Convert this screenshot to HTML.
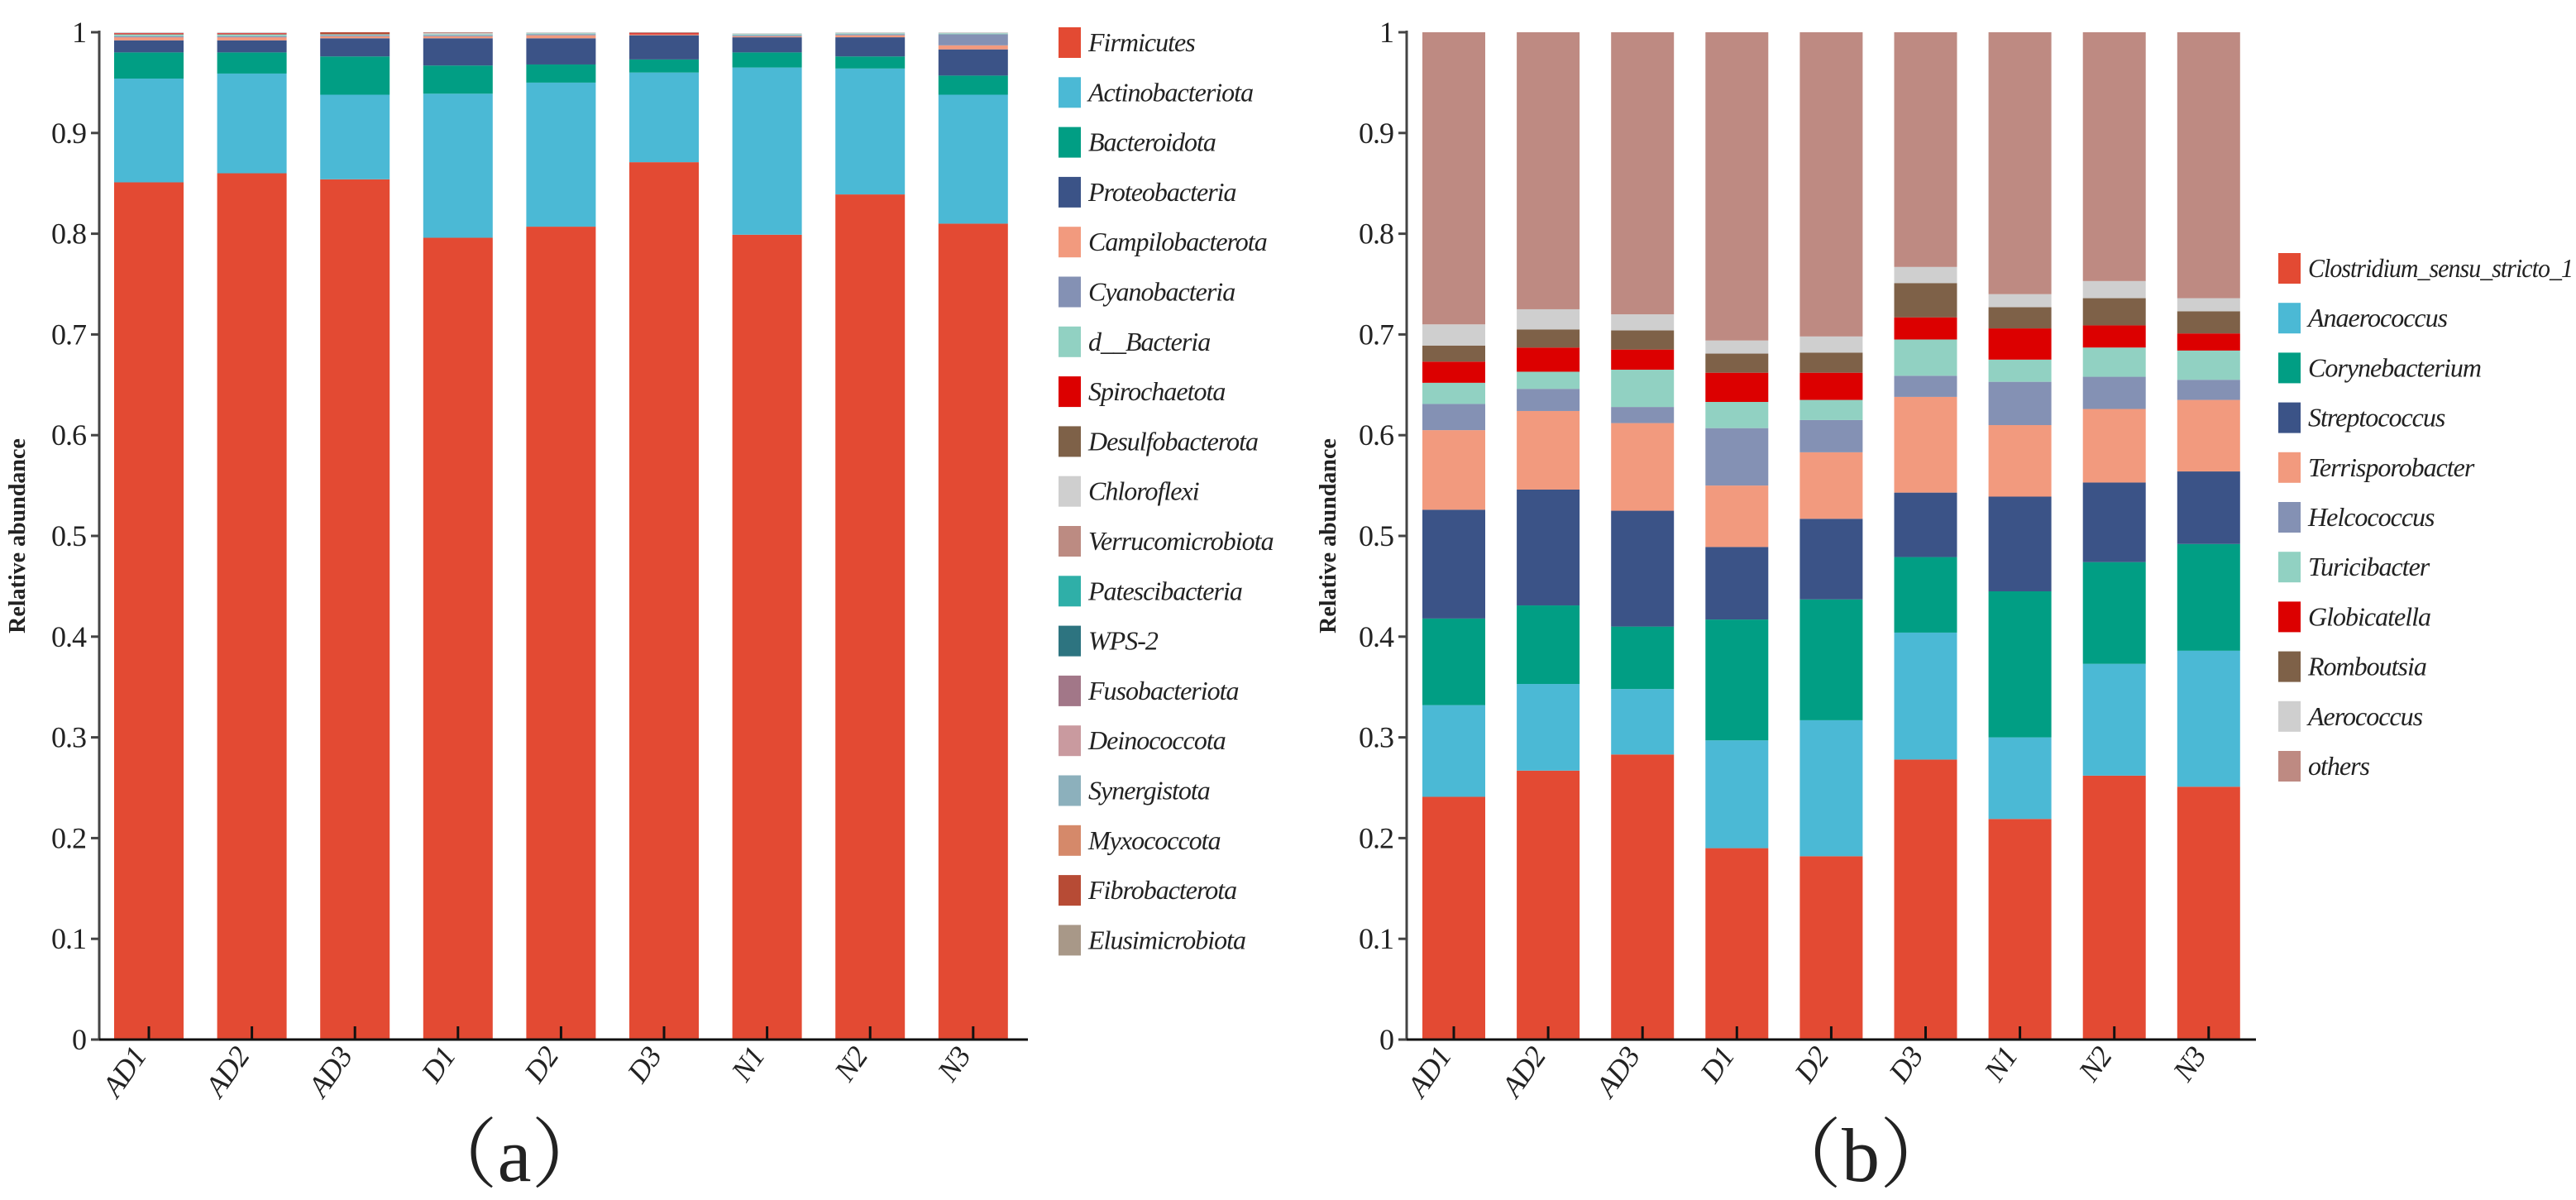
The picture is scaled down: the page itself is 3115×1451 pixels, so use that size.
<!DOCTYPE html>
<html><head><meta charset="utf-8">
<style>
html,body{margin:0;padding:0;background:#fff;}
svg{display:block;}
text{font-family:"Liberation Serif",serif;fill:#222;}
.tk{font-size:36px;letter-spacing:-1px;}
.lg{font-size:32px;font-style:italic;letter-spacing:-1px;}
.yt{font-size:28px;font-weight:bold;}
.pl{font-family:"Liberation Serif","Noto Serif CJK SC",serif;font-size:92px;}
</style></head>
<body>
<svg id="chart" width="3115" height="1451" viewBox="0 0 3115 1451" xmlns="http://www.w3.org/2000/svg"></svg>
<script>
const samples = ["AD1","AD2","AD3","D1","D2","D3","N1","N2","N3"];
const yTicks = [0,0.1,0.2,0.3,0.4,0.5,0.6,0.7,0.8,0.9,1];
const yTickLabels = ["0","0.1","0.2","0.3","0.4","0.5","0.6","0.7","0.8","0.9","1"];

// Panel (a) phylum level
const phylaNames = ["Firmicutes","Actinobacteriota","Bacteroidota","Proteobacteria","Campilobacterota","Cyanobacteria","d__Bacteria","Spirochaetota","Desulfobacterota","Chloroflexi","Verrucomicrobiota","Patescibacteria","WPS-2","Fusobacteriota","Deinococcota","Synergistota","Myxococcota","Fibrobacterota","Elusimicrobiota"];
const phylaColors = ["#E34A33","#4BB9D5","#019E84","#3B5387","#F29A7E","#8491B4","#91D1C2","#DC0000","#7E6148","#CFCFCF","#BC8B82","#2FAFA8","#2D7480","#A27788","#C99A9F","#8CB0BC","#D5896A","#B74B35","#A89888"];
const firmicutes = [0.851,0.860,0.854,0.796,0.807,0.871,0.799,0.839,0.810];
const actinobacteriota = [0.103,0.099,0.084,0.143,0.143,0.089,0.166,0.125,0.128];
const bacteroidota = [0.026,0.021,0.038,0.028,0.018,0.013,0.015,0.012,0.019];
const proteobacteria = [0.012,0.012,0.018,0.027,0.026,0.024,0.015,0.019,0.026];
const campilobacterota = [0.003,0.003,0.002,0.002,0.003,0.001,0.001,0.002,0.004];
const cyanobacteria = [0.001,0.001,0.001,0.001,0.001,0.000,0.001,0.001,0.011];
const dBacteria = [0.002,0.002,0.001,0.001,0.001,0.000,0.001,0.001,0.001];
const spirochaetota = [0.001,0.001,0.000,0.000,0.000,0.001,0.000,0.000,0.000];
const desulfobacterota = [0.000,0.000,0.000,0.000,0.000,0.000,0.000,0.000,0.000];
const chloroflexi = [0.001,0.001,0.000,0.001,0.001,0.000,0.001,0.001,0.001];
const verrucomicrobiota = [0.000,0.000,0.000,0.001,0.000,0.001,0.000,0.000,0.000];
const minorA = [0.000,0.000,0.000,0.000,0.000,0.000,0.000,0.000,0.000];
const fibrobacterota = [0.000,0.000,0.002,0.000,0.000,0.000,0.000,0.000,0.000];
const phylaSeries = [firmicutes,actinobacteriota,bacteroidota,proteobacteria,campilobacterota,cyanobacteria,dBacteria,spirochaetota,desulfobacterota,chloroflexi,verrucomicrobiota,minorA,minorA,minorA,minorA,minorA,minorA,fibrobacterota,minorA];

// Panel (b) genus level
const genusNames = ["Clostridium_sensu_stricto_1","Anaerococcus","Corynebacterium","Streptococcus","Terrisporobacter","Helcococcus","Turicibacter","Globicatella","Romboutsia","Aerococcus","others"];
const genusColors = ["#E34A33","#4BB9D5","#019E84","#3B5387","#F29A7E","#8491B4","#91D1C2","#DC0000","#7E6148","#CFCFCF","#BE8A82"];
const clostridium = [0.241,0.267,0.283,0.190,0.182,0.278,0.219,0.262,0.251];
const anaerococcus = [0.091,0.086,0.065,0.107,0.135,0.126,0.081,0.111,0.135];
const corynebacterium = [0.086,0.078,0.062,0.120,0.120,0.075,0.145,0.101,0.106];
const streptococcus = [0.108,0.115,0.115,0.072,0.080,0.064,0.094,0.079,0.072];
const terrisporobacter = [0.079,0.078,0.087,0.061,0.066,0.095,0.071,0.073,0.071];
const helcococcus = [0.026,0.022,0.016,0.057,0.032,0.021,0.043,0.032,0.020];
const turicibacter = [0.021,0.017,0.037,0.026,0.020,0.036,0.022,0.029,0.029];
const globicatella = [0.021,0.024,0.020,0.029,0.027,0.022,0.031,0.022,0.017];
const romboutsia = [0.016,0.018,0.019,0.019,0.020,0.034,0.021,0.027,0.022];
const aerococcus = [0.021,0.020,0.016,0.013,0.016,0.016,0.013,0.017,0.013];
const others = [0.290,0.275,0.280,0.306,0.302,0.233,0.260,0.247,0.264];
const genusSeries = [clostridium,anaerococcus,corynebacterium,streptococcus,terrisporobacter,helcococcus,turicibacter,globicatella,romboutsia,aerococcus,others];

const NS = "http://www.w3.org/2000/svg";
const svg = document.getElementById("chart");
function mk(tag, attrs, parent, txt){
  const e = document.createElementNS(NS, tag);
  for (const k in attrs) e.setAttribute(k, attrs[k]);
  if (txt !== undefined) e.textContent = txt;
  (parent||svg).appendChild(e);
  return e;
}

function panel(cfg){
  const g = mk("g", {});
  
  
  const y = v => cfg.y0 - v * (cfg.y0 - cfg.y1);
  const x = i => cfg.x0 + i * cfg.step;
  for (let i = 0; i < samples.length; i++){
    let cum = 0;
    for (let s = 0; s < cfg.series.length; s++){
      const v = cfg.series[s][i];
      if (v <= 0) { continue; }
      const top = Math.min(cum + v, 1);
      const r = mk("rect", {x: x(i) - cfg.bw/2, y: y(top), width: cfg.bw, height: y(cum) - y(top), fill: cfg.colors[s]}, g);
      
      
      cum = top;
    }
  }
  const ya = mk("line", {x1: cfg.ax, y1: y(1) - 2, x2: cfg.ax, y2: cfg.y0, stroke: "#444", "stroke-width": 3}, g);
  
  
  const xa = mk("line", {x1: cfg.ax, y1: cfg.y0, x2: cfg.axEnd, y2: cfg.y0, stroke: "#111", "stroke-width": 3}, g);
  
  
  for (let t = 0; t < yTicks.length; t++){
    mk("line", {x1: cfg.ax - 10, y1: y(yTicks[t]), x2: cfg.ax, y2: y(yTicks[t]), stroke: "#444", "stroke-width": 3}, g);
    const tl = mk("text", {x: cfg.ax - 16, y: y(yTicks[t]) + 12, "text-anchor": "end", class: "tk"}, g, yTickLabels[t]);
    
    
  }
  for (let i = 0; i < samples.length; i++){
    mk("line", {x1: x(i), y1: cfg.y0 - 16, x2: x(i), y2: cfg.y0, stroke: "#111", "stroke-width": 3}, g);
    const xl = mk("text", {x: x(i) - 2, y: cfg.y0 + 20, "text-anchor": "end", class: "tk", "font-style": "italic", transform: "rotate(-55 " + (x(i) - 2) + " " + (cfg.y0 + 20) + ")"}, g, samples[i]);
    
    
  }
  const yt = mk("text", {x: cfg.titleX, y: 648, "text-anchor": "middle", class: "yt", transform: "rotate(-90 " + cfg.titleX + " 648)"}, g, "Relative abundance");
  
  
  for (let s = 0; s < cfg.names.length; s++){
    const ly = cfg.legY + s * cfg.legStep;
    const lg = mk("g", {}, g);
    
    
    mk("rect", {x: cfg.legX, y: ly - 18, width: 27, height: 37, fill: cfg.colors[s]}, lg);
    const tx = mk("text", {x: cfg.legX + 36, y: ly + 11, class: "lg"}, lg, cfg.names[s]);
    if (tx.getComputedTextLength && tx.getComputedTextLength() > cfg.legMax) {
      tx.setAttribute("textLength", cfg.legMax);
      tx.setAttribute("lengthAdjust", "spacingAndGlyphs");
    }
  }
  const pl = mk("text", {x: cfg.labX, y: 1428, "text-anchor": "middle", class: "pl"}, g, cfg.label);
  
  
}

panel({id: "a", series: phylaSeries, names: phylaNames, colors: phylaColors,
  y0: 1257, y1: 39, x0: 180, step: 124.6, bw: 84, ax: 120, axEnd: 1243, titleX: 30,
  legX: 1280, legY: 51, legStep: 60.3, legMax: 235, labX: 622, label: "（a）"});
panel({id: "b", series: genusSeries, names: genusNames, colors: genusColors,
  y0: 1257, y1: 39, x0: 1758, step: 114.1, bw: 76, ax: 1701, axEnd: 2728, titleX: 1615,
  legX: 2755, legY: 324, legStep: 60.2, legMax: 320, labX: 2250, label: "（b）"});
</script>
</body></html>
